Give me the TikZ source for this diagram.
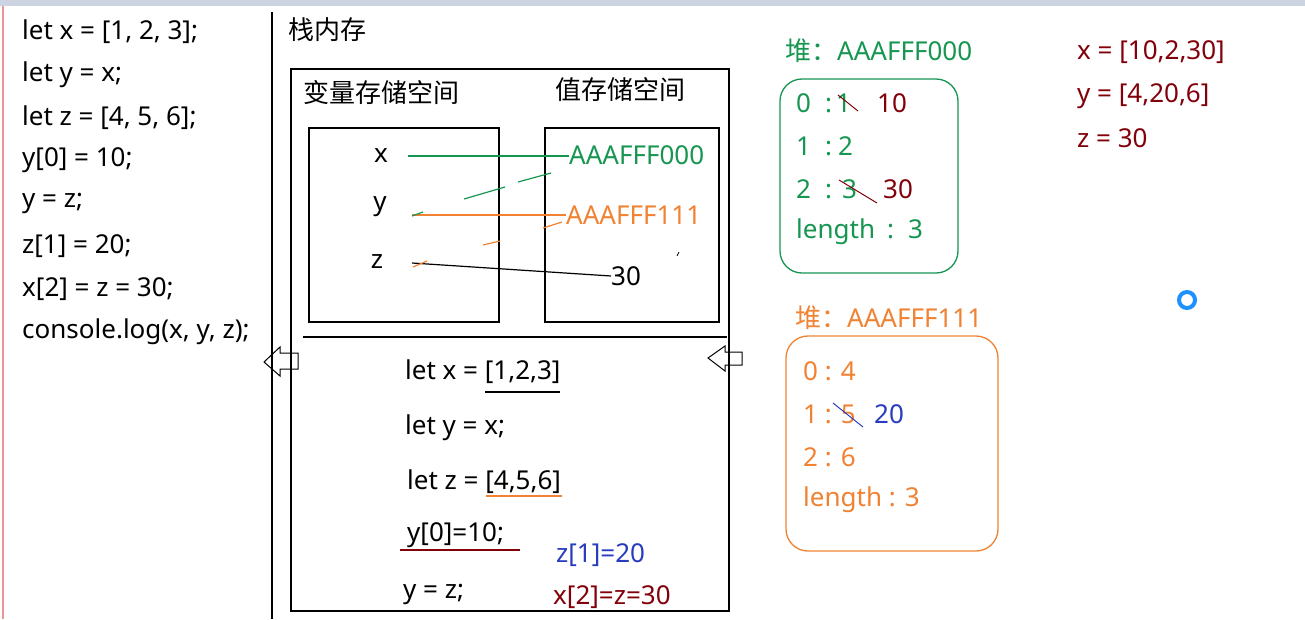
\documentclass[tikz,border=0pt]{standalone}
\usepackage{fontspec}
\setmainfont{Noto Sans}
\newfontfamily\cjk{Noto Sans CJK SC}
\definecolor{hgreen}{RGB}{22,150,80}
\definecolor{horange}{RGB}{240,130,50}
\definecolor{hred}{RGB}{130,0,10}
\definecolor{hblue}{RGB}{40,60,190}
\definecolor{barcol}{RGB}{205,212,225}
\definecolor{ringblue}{RGB}{30,144,255}
\definecolor{edgered}{RGB}{235,150,150}
\tikzset{
  txt/.style={font=\fontsize{26}{30}\selectfont, inner sep=0pt, anchor=west},
  frame/.style={draw=black, line width=1.3pt},
  stroke/.style={line width=1.2pt},
  hollowarrow/.style={draw=black, line width=1pt, line join=miter},
  heapbox/.style={line width=1.3pt, rounded corners=22pt},
}
\newcommand{\colonsp}[2]{\hspace{#1}:\hspace{#2}}
\begin{document}
\begin{tikzpicture}[x=1pt,y=-1pt]
\useasboundingbox (0,0) rectangle (1305,619);
\fill[white] (0,0) rectangle (1305,619);
\fill[barcol] (0,0) rectangle (1305,6);
\draw[edgered, line width=1.5pt] (3,6) -- (3,619);

% left code column
\node[txt] (c1) at (22,32) {let x = [1, 2, 3];};
\node[txt] (c2) at (22,75) {let y = x;};
\node[txt] (c3) at (22,118) {let z = [4, 5, 6];};
\node[txt] (c4) at (22,160) {y[0] = 10;};
\node[txt] (c5) at (22,203) {y = z;};
\node[txt] (c6) at (22,246) {z[1] = 20;};
\node[txt] (c7) at (22,289) {x[2] = z = 30;};
\node[txt] (c8) at (22,332) {console.log(x, y, z);};

% separator
\draw[black, line width=1.5pt] (272,12) -- (272,619);
\node[txt] (stack) at (288,30) {\cjk 栈内存};

% big stack frame
\draw[frame] (291,69) rectangle (729,611);
\draw[black, line width=1.3pt] (303,337) -- (727,337);
\node[txt, anchor=center] (varsp) at (381,93) {\cjk 变量存储空间};
\node[txt, anchor=center] (valsp) at (620,90) {\cjk 值存储空间};
\draw[frame] (309,128) rectangle (499,322);
\draw[frame] (545,128) rectangle (719,322);

\node[txt, anchor=center] (vx) at (381,156) {x};
\node[txt, anchor=center] (vy) at (380,207) {y};
\node[txt, anchor=center] (vz) at (377,262) {z};
\node[txt, text=hgreen] (a0) at (569,155) {AAAFFF000};
\node[txt, text=horange] (a1) at (566,215) {AAAFFF111};
\node[txt] (n30) at (611,276) {30};

\coordinate (xs) at (408,156);
\coordinate (ys) at (412,215);
\coordinate (zs) at (412,263);
\draw[hgreen, stroke] (xs) -- (xs -| a0.west);
\draw[horange, stroke] (ys) -- (ys -| a1.west);
\draw[black, stroke] (zs) -- (n30.west);

% sketch marks
\draw[hgreen, stroke] (464,199) -- (505,187);
\draw[hgreen, stroke] (518,182) -- (551,173);
\draw[hgreen, stroke] (412,216) -- (423,212);
\draw[horange, stroke] (543,228) -- (562,222);
\draw[horange, stroke] (483,245) -- (500,241);
\draw[horange, stroke] (413,267) -- (427,261);
\draw[black, line width=0.8pt] (677,256) -- (679,252);

% arrows
\draw[hollowarrow] (264,362) -- (280,347) -- (280,353) -- (298,353) -- (298,369) -- (280,369) -- (280,376) -- cycle;
\draw[hollowarrow] (708,358) -- (725,346) -- (725,352) -- (742,352) -- (742,365) -- (725,365) -- (725,371) -- cycle;

% lower code
\node[txt] (l1) at (405,372) {let x = [1,2,3]};
\draw[black, stroke] (485,392) -- (560,392);
\node[txt] (l2) at (405,428) {let y = x;};
\node[txt] (l3) at (407,482) {let z = [4,5,6]};
\draw[horange, stroke] (486,496) -- (562,496);
\node[txt] (l4) at (407,535) {y[0]=10;};
\draw[hred, stroke] (400,550) -- (520,550);
\node[txt, text=hblue] (l5) at (556,555) {z[1]=20};
\node[txt] (l6) at (403,594) {y = z;};
\node[txt, text=hred] (l7) at (553,597) {x[2]=z=30};

% heap AAAFFF000
\node[txt, text=hgreen] (h0t) at (785,51) {{\cjk 堆：}AAAFFF000};
\draw[heapbox, hgreen] (780,79) rectangle (958,273);
\node[txt, text=hgreen] (g0) at (796,103) {0\colonsp{14pt}{4pt}1};
\node[txt, text=hred] (g0n) at (877,103) {10};
\draw[hred, line width=1pt] (838,95) -- (858,111);
\node[txt, text=hgreen] (g1) at (796,146) {1\colonsp{14pt}{6pt}2};
\node[txt, text=hgreen] (g2) at (796,189) {2\colonsp{14pt}{10pt}3};
\node[txt, text=hred] (g2n) at (883,189) {30};
\draw[hred, line width=1pt] (839,180) -- (877,203);
\node[txt, text=hgreen] (g3) at (796,232) {length\colonsp{12pt}{14pt}3};

% results
\node[txt, text=hred] (r1) at (1077,52) {x = [10,2,30]};
\node[txt, text=hred] (r2) at (1077,96) {y = [4,20,6]};
\node[txt, text=hred] (r3) at (1077,138) {z = 30};

\draw[ringblue, line width=4pt] (1187,300) circle (8);

% heap AAAFFF111
\node[txt, text=horange] (h1t) at (795,318) {{\cjk 堆：}AAAFFF111};
\draw[heapbox, horange] (786,336) rectangle (998,551);
\node[txt, text=horange] (o0) at (803,371) {0 : 4};
\node[txt, text=horange] (o1) at (803,414) {1 : 5};
\node[txt, text=hblue] (o1n) at (874,414) {20};
\draw[hblue, line width=1pt] (833,403) -- (863,427);
\node[txt, text=horange] (o2) at (803,457) {2 : 6};
\node[txt, text=horange] (o3) at (803,500) {length : 3};
\end{tikzpicture}
\end{document}
